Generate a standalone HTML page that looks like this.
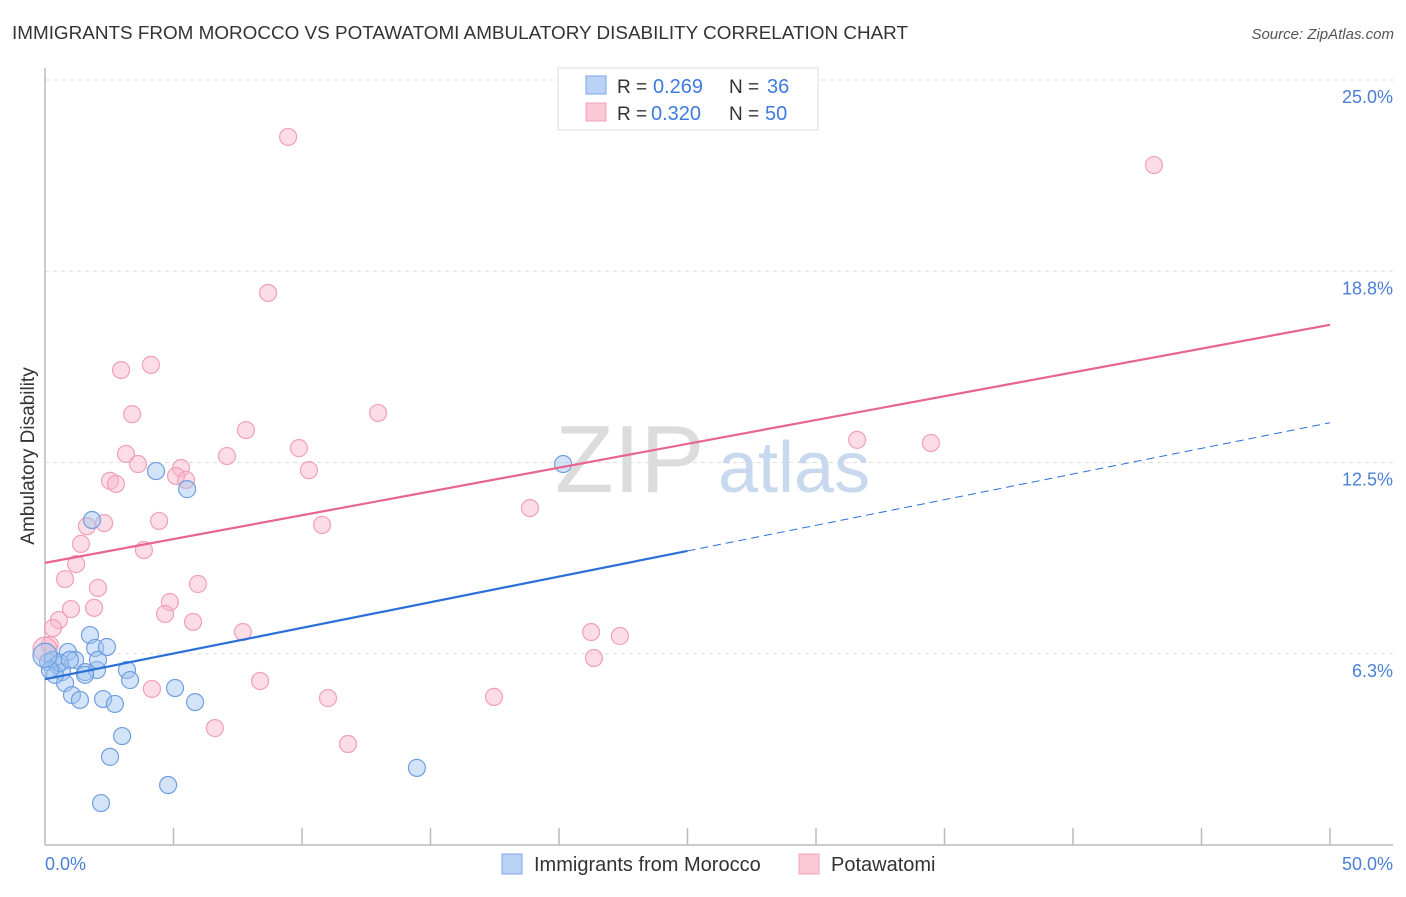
<!DOCTYPE html>
<html><head><meta charset="utf-8"><style>
body{margin:0;background:#fff;font-family:"Liberation Sans",sans-serif;}
svg text{font-family:"Liberation Sans",sans-serif;}
</style></head><body>
<svg width="1406" height="892" viewBox="0 0 1406 892" xmlns="http://www.w3.org/2000/svg">
<text x="12" y="39" font-size="18" fill="#333" textLength="896" lengthAdjust="spacingAndGlyphs">IMMIGRANTS FROM MOROCCO VS POTAWATOMI AMBULATORY DISABILITY CORRELATION CHART</text>
<text x="1394" y="39" font-size="15" fill="#555" font-style="italic" text-anchor="end">Source: ZipAtlas.com</text>
<g id="grid"></g>
<text x="555" y="492" font-size="96" fill="#dcdcdc" font-family="Liberation Serif">ZIP</text>
<text x="718" y="492" font-size="72" fill="#c8d8ef">atlas</text>
<line x1="45" y1="68" x2="45" y2="845" stroke="#bbb" stroke-width="1.5"/>
<line x1="45" y1="845" x2="1393" y2="845" stroke="#bbb" stroke-width="1.5"/>
<g id="ticks"></g>
<g id="pts"></g>
<g id="lines"></g>
<text x="34" y="456" font-size="19" fill="#333" transform="rotate(-90 34 456)" text-anchor="middle">Ambulatory Disability</text>
<text x="45" y="870" font-size="18" fill="#4a7fd6">0.0%</text>
<text x="1393" y="870" font-size="18" fill="#4a7fd6" text-anchor="end">50.0%</text>
<g>
<rect x="558" y="68" width="260" height="62" fill="#fff" stroke="#ddd"/>
<rect x="586" y="76" width="20" height="18" fill="#b9d2f5" stroke="#7aa6e6"/>
<rect x="586" y="103" width="20" height="18" fill="#fac8d6" stroke="#f0a0b8"/>
<text x="617" y="93" font-size="19" fill="#333">R =</text>
<text x="653" y="93" font-size="20" fill="#3d7be0">0.269</text>
<text x="729" y="93" font-size="19" fill="#333">N =</text>
<text x="767" y="93" font-size="20" fill="#3d7be0">36</text>
<text x="617" y="120" font-size="19" fill="#333">R =</text>
<text x="651" y="120" font-size="20" fill="#3d7be0">0.320</text>
<text x="729" y="120" font-size="19" fill="#333">N =</text>
<text x="765" y="120" font-size="20" fill="#3d7be0">50</text>
</g>
<g>
<rect x="502" y="854" width="20" height="20" fill="#b9d2f5" stroke="#7aa6e6"/>
<text x="534" y="871" font-size="20" fill="#333">Immigrants from Morocco</text>
<rect x="799" y="854" width="20" height="20" fill="#fac8d6" stroke="#f0a0b8"/>
<text x="831" y="871" font-size="20" fill="#333">Potawatomi</text>
</g>
</svg>
<script>
const yTicks=[25,18.75,12.5,6.25];
const yTickLabels=["25.0%","18.8%","12.5%","6.3%"];
const xTicks=[5,10,15,20,25,30,35,40,45,50];
const blueX=[0.12,0.31,0.47,0.66,0.78,0.89,1.05,1.17,1.36,1.56,1.75,1.83,1.95,2.02,2.06,2.18,2.26,2.41,2.53,2.72,3.0,3.19,3.31,4.32,4.79,5.06,5.53,5.84,14.47,20.16,0.39,0.58,0.19,1.56,0.97,0.0];
const blueY=[5.98,6.05,5.88,5.65,5.29,6.31,4.9,6.05,4.74,5.65,6.86,10.62,6.44,5.72,6.05,1.37,4.77,6.47,2.88,4.61,3.56,5.72,5.39,12.22,1.96,5.13,11.63,4.67,2.52,12.45,5.56,5.95,5.72,5.56,6.05,6.2];
const pinkX=[9.46,43.15,8.68,4.12,2.96,3.39,12.96,7.82,31.6,34.47,9.88,3.15,7.08,3.62,5.29,10.27,5.1,5.49,2.53,2.76,18.87,4.44,2.3,1.63,10.78,1.4,3.85,1.21,0.78,2.06,5.95,4.86,1.01,1.91,4.67,5.76,0.54,0.31,7.7,21.25,22.37,0.19,21.36,4.16,8.37,11.01,17.47,6.61,11.79,0.0];
const pinkY=[23.14,22.22,18.04,15.69,15.52,14.08,14.12,13.56,13.24,13.14,12.97,12.78,12.71,12.45,12.32,12.25,12.06,11.93,11.9,11.8,11.01,10.59,10.52,10.42,10.46,9.84,9.64,9.18,8.69,8.4,8.53,7.94,7.71,7.75,7.55,7.29,7.35,7.09,6.96,6.96,6.83,6.54,6.11,5.1,5.36,4.8,4.84,3.82,3.3,6.4];
const blueTrend=[5.42,13.8];
const pinkTrend=[9.22,17.0];
const blueSolidEnd=25;
const X=v=>45+v/50*1285, Y=v=>845-v*30.6;
const NS="http://www.w3.org/2000/svg";
function mk(t,a,p){const e=document.createElementNS(NS,t);for(const k in a)e.setAttribute(k,a[k]);p.appendChild(e);return e;}
const grid=document.getElementById('grid');
yTicks.forEach((t,i)=>{
 const l=mk('line',{x1:45,x2:1393,y1:Y(t),y2:Y(t),stroke:'#ddd','stroke-dasharray':'4,4'},grid);
 
 
 const tx=mk('text',{x:1393,y:Y(t)+23,'font-size':18,fill:'#4a7fd6','text-anchor':'end'},grid);
 tx.textContent=yTickLabels[i];
 
 
});
const ticks=document.getElementById('ticks');
xTicks.forEach(t=>{
 const l=mk('line',{x1:X(t),x2:X(t),y1:828,y2:845,stroke:'#bbb','stroke-width':1.5},ticks);
 
 
});
const pts=document.getElementById('pts');
pinkX.forEach((x,i)=>{
 const c=mk('circle',{cx:X(x),cy:Y(pinkY[i]),r:i==pinkX.length-1?12:8.5,fill:'rgba(248,180,200,0.45)',stroke:'#f0a0b8','stroke-width':1.2},pts);
 
 
});
blueX.forEach((x,i)=>{
 const c=mk('circle',{cx:X(x),cy:Y(blueY[i]),r:i==blueX.length-1?12:8.5,fill:'rgba(160,195,240,0.45)',stroke:'#6f9fe0','stroke-width':1.2},pts);
 
 
});
const ln=document.getElementById('lines');
const bt=v=>blueTrend[0]+(blueTrend[1]-blueTrend[0])*v/50;
let a=mk('line',{x1:X(0),y1:Y(bt(0)),x2:X(blueSolidEnd),y2:Y(bt(blueSolidEnd)),stroke:'#2b6fd8','stroke-width':2.2},ln);


a=mk('line',{x1:X(blueSolidEnd),y1:Y(bt(blueSolidEnd)),x2:X(50),y2:Y(bt(50)),stroke:'#2b6fd8','stroke-width':1,'stroke-dasharray':'8,5'},ln);


a=mk('line',{x1:X(0),y1:Y(pinkTrend[0]),x2:X(50),y2:Y(pinkTrend[1]),stroke:'#e8658f','stroke-width':2.2},ln);


</script>
</body></html>
